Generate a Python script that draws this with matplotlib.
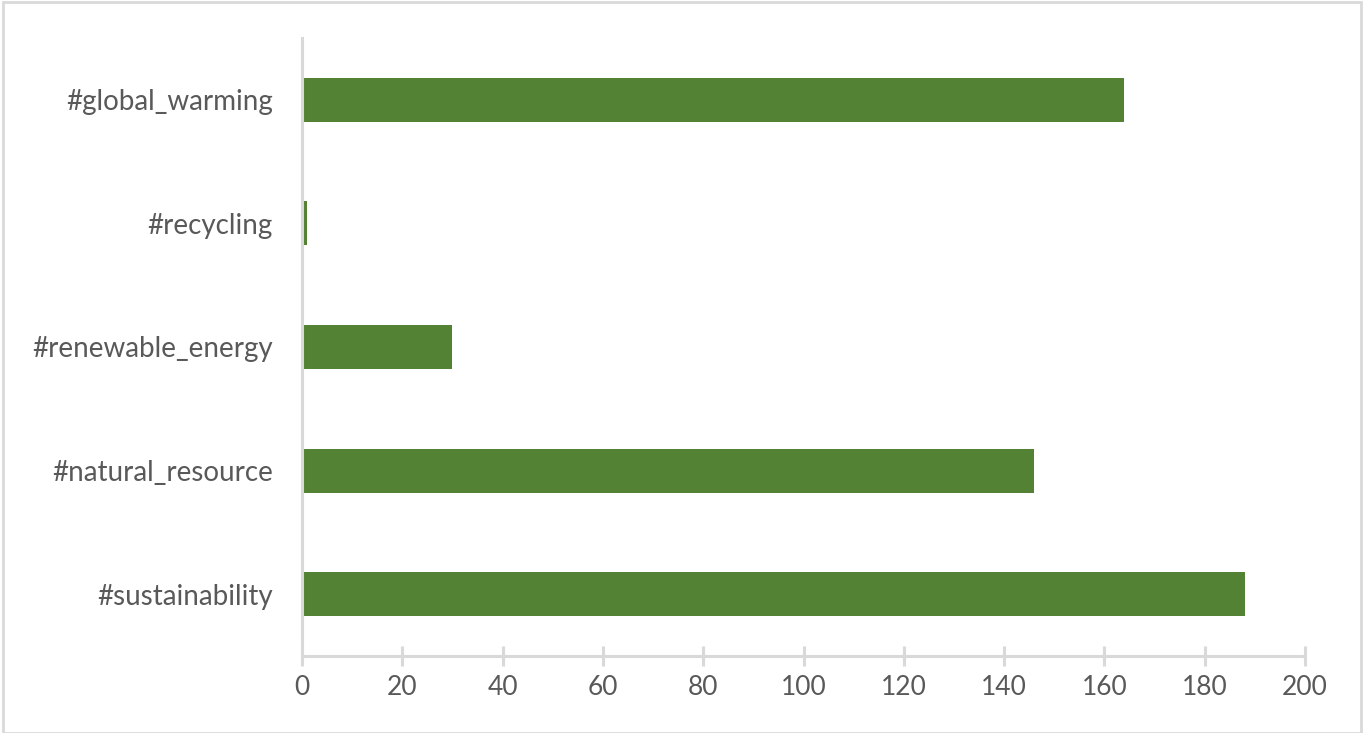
import matplotlib
matplotlib.use("Agg")
import matplotlib.pyplot as plt
from matplotlib.patches import Rectangle

categories = ["#sustainability", "#natural_resource", "#renewable_energy", "#recycling", "#global_warming"]
values = [188, 146, 30, 1, 164]
xticks = [0, 20, 40, 60, 80, 100, 120, 140, 160, 180, 200]

plt.rcParams['font.family'] = ['Lato', 'DejaVu Sans']

fig = plt.figure(figsize=(13.64, 7.33), dpi=100)
ax = fig.add_axes([302/1364, 1-656/733, (1305-302)/1364, (656-38)/733])

ypos = list(range(len(categories)))
ax.barh(ypos, values, height=0.356, color="#548235")

ax.set_xlim(0, 200)
ax.set_ylim(-0.5, len(categories)-0.5)
ax.set_xticks(xticks)
ax.set_xticklabels([str(t) for t in xticks])
ax.set_yticks(ypos)
ax.set_yticklabels(categories)

for s in ["top", "right"]:
    ax.spines[s].set_visible(False)
for s in ["left", "bottom"]:
    ax.spines[s].set_color("#D9D9D9")
    ax.spines[s].set_linewidth(2.2)

ax.tick_params(axis="x", direction="inout", length=15, width=2.2, color="#D9D9D9",
               labelcolor="#595959", labelsize=19, pad=6)
ax.tick_params(axis="y", length=0, labelcolor="#595959", labelsize=20, pad=21)

fig.patches.append(Rectangle((3/1364, 0.0), 1-6/1364, 1-2/733, transform=fig.transFigure,
                             fill=False, edgecolor="#D9D9D9", linewidth=2))

fig.savefig("out.png", dpi=100)
